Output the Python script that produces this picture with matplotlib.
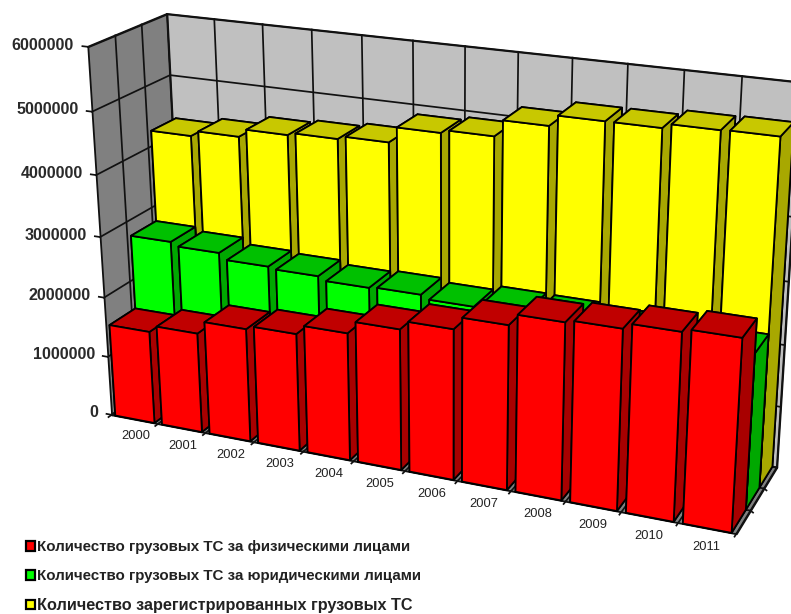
import numpy as np
import matplotlib
matplotlib.use('Agg')
import matplotlib.pyplot as plt
from matplotlib.patches import Patch
from mpl_toolkits.mplot3d.art3d import Poly3DCollection

years = ['2000', '2001', '2002', '2003', '2004', '2005',
         '2006', '2007', '2008', '2009', '2010', '2011']
individuals = [1550000, 1660000, 1870000, 1930000, 2080000, 2280000,
               2420000, 2620000, 2800000, 2840000, 2930000, 2980000]
companies = [2780000, 2720000, 2620000, 2590000, 2530000, 2550000,
             2490000, 2560000, 2550000, 2510000, 2490000, 2450000]
registered = [4290000, 4380000, 4510000, 4550000, 4600000, 4850000,
              4900000, 5160000, 5330000, 5330000, 5400000, 5410000]
series_labels = ['Количество грузовых ТС за физическими лицами',
                 'Количество грузовых ТС за юридическими лицами',
                 'Количество зарегистрированных грузовых ТС']
z_ticks = [0, 1000000, 2000000, 3000000, 4000000, 5000000, 6000000]

W, H = 791, 614
plt.rcParams['font.family'] = ['Liberation Sans', 'DejaVu Sans']

# Camera: category index, series index, value (millions) -> image pixel
CAMERA = np.array([
    [4.51656e+01, 2.81120e+01, -4.92629e+00, 1.11603e+02],
    [4.91436e+00, -9.96450e+00, -6.18511e+01, 4.14841e+02],
    [-9.36009e-03, 2.07543e-02, -1.09433e-02, 1.0],
])
CAMERA = CAMERA @ np.diag([1, 1, 1e-6, 1])

fig = plt.figure(figsize=(W / 100, H / 100), dpi=100, facecolor='white')
ax = fig.add_axes([0, 0, 1, 1], projection='3d', computed_zorder=False)
ax.apply_aspect = lambda position=None: None
ax.set_position([0, 0, 1, 1])
ax.set_axis_off()
ax.patch.set_visible(False)


def camera_proj():
    to_view = ax.transData.inverted().get_matrix()
    flip = np.array([[1, 0, 0], [0, -1, H], [0, 0, 1.0]])
    m = to_view @ flip @ CAMERA
    return np.array([m[0], m[1], [0, 0, 0, -1.0], m[2]])


ax.get_proj = camera_proj


def label_at(x, y, z, s, **kw):
    """Place a flat label at the image position of a point of the chart."""
    h = CAMERA @ np.array([x, y, z, 1.0])
    fig.text(h[0] / h[2] / W, 1 - h[1] / h[2] / H, s, **kw)


n = len(years)
zmax = z_ticks[-1]
LINE = '#111111'

# walls and floor
walls = [
    ([(0, 0, 0), (0, 3, 0), (0, 3, zmax), (0, 0, zmax)], '#808080'),
    ([(0, 3, 0), (n, 3, 0), (n, 3, zmax), (0, 3, zmax)], '#c0c0c0'),
    ([(0, 0, 0), (n, 0, 0), (n, 3, 0), (0, 3, 0)], '#808080'),
]
for verts, col in walls:
    ax.add_collection3d(Poly3DCollection([verts], facecolors=col, edgecolors=LINE,
                                         linewidths=1.3, zorder=1))

# gridlines
for z in z_ticks:
    ax.plot([0, 0, n], [0, 3, 3], [z, z, z], color=LINE, lw=1.25, zorder=2)
    ax.plot([-0.11, 0], [0, 0], [z, z], color=LINE, lw=1.25, zorder=2)
    label_at(-0.28, 0, z, str(z), ha='right', va='center', fontsize=11.6,
             fontweight='bold', color='#2a2a2a')
for s in (1, 2):
    ax.plot([0, 0], [s, s], [0, zmax], color=LINE, lw=1.25, zorder=2)
    ax.plot([0, n], [s, s], [0, 0], color=LINE, lw=1.25, zorder=2)
    ax.plot([n, n + 0.06], [s, s - 0.06], [0, 0], color=LINE, lw=1.25, zorder=2)
for i in range(n + 1):
    ax.plot([i, i, i], [0, 3, 3], [0, 0, zmax], color=LINE, lw=1.25, zorder=2)
    ax.plot([i, i], [0, -0.12], [0, 0], color=LINE, lw=1.25, zorder=2)
for i, label in enumerate(years):
    label_at(i + 0.5, 0, -300000, label, ha='center', va='center', fontsize=9.3,
             color='#222222')

# bars: back series first, and left to right within a series
MARGIN = 0.08
WIDTH = 1 - 2 * MARGIN
DEPTH = 1.0
styles = [
    (individuals, 0, '#ff0000', '#c00000', '#a80000'),
    (companies, 1, '#00ff00', '#00c000', '#00a800'),
    (registered, 2, '#ffff00', '#c8c800', '#a8a800'),
]
for values, row, front, top, side in styles:
    for i, v in enumerate(values):
        ax.bar3d(i + MARGIN, row, 0, WIDTH, DEPTH, v,
                 color=[side, top, front, side, side, side], shade=False,
                 edgecolor='black', linewidth=1.3,
                 zorder=100 - 30 * row + 10 + i)

handles = [Patch(facecolor=c, edgecolor='black', linewidth=1.6)
           for c in ('#ff0000', '#00ff00', '#ffff00')]
leg = fig.legend(handles, series_labels, loc='lower left',
                 bbox_to_anchor=(26 / W, 1 / H), bbox_transform=fig.transFigure,
                 frameon=False, borderpad=0, borderaxespad=0, handlelength=0.6,
                 handleheight=0.6, handletextpad=0.15, labelspacing=0.98,
                 prop={'size': 10.9, 'weight': 'bold'}, labelcolor='#222222')
leg.get_texts()[2].set_fontsize(11.7)

fig.savefig('out.png', dpi=100)
